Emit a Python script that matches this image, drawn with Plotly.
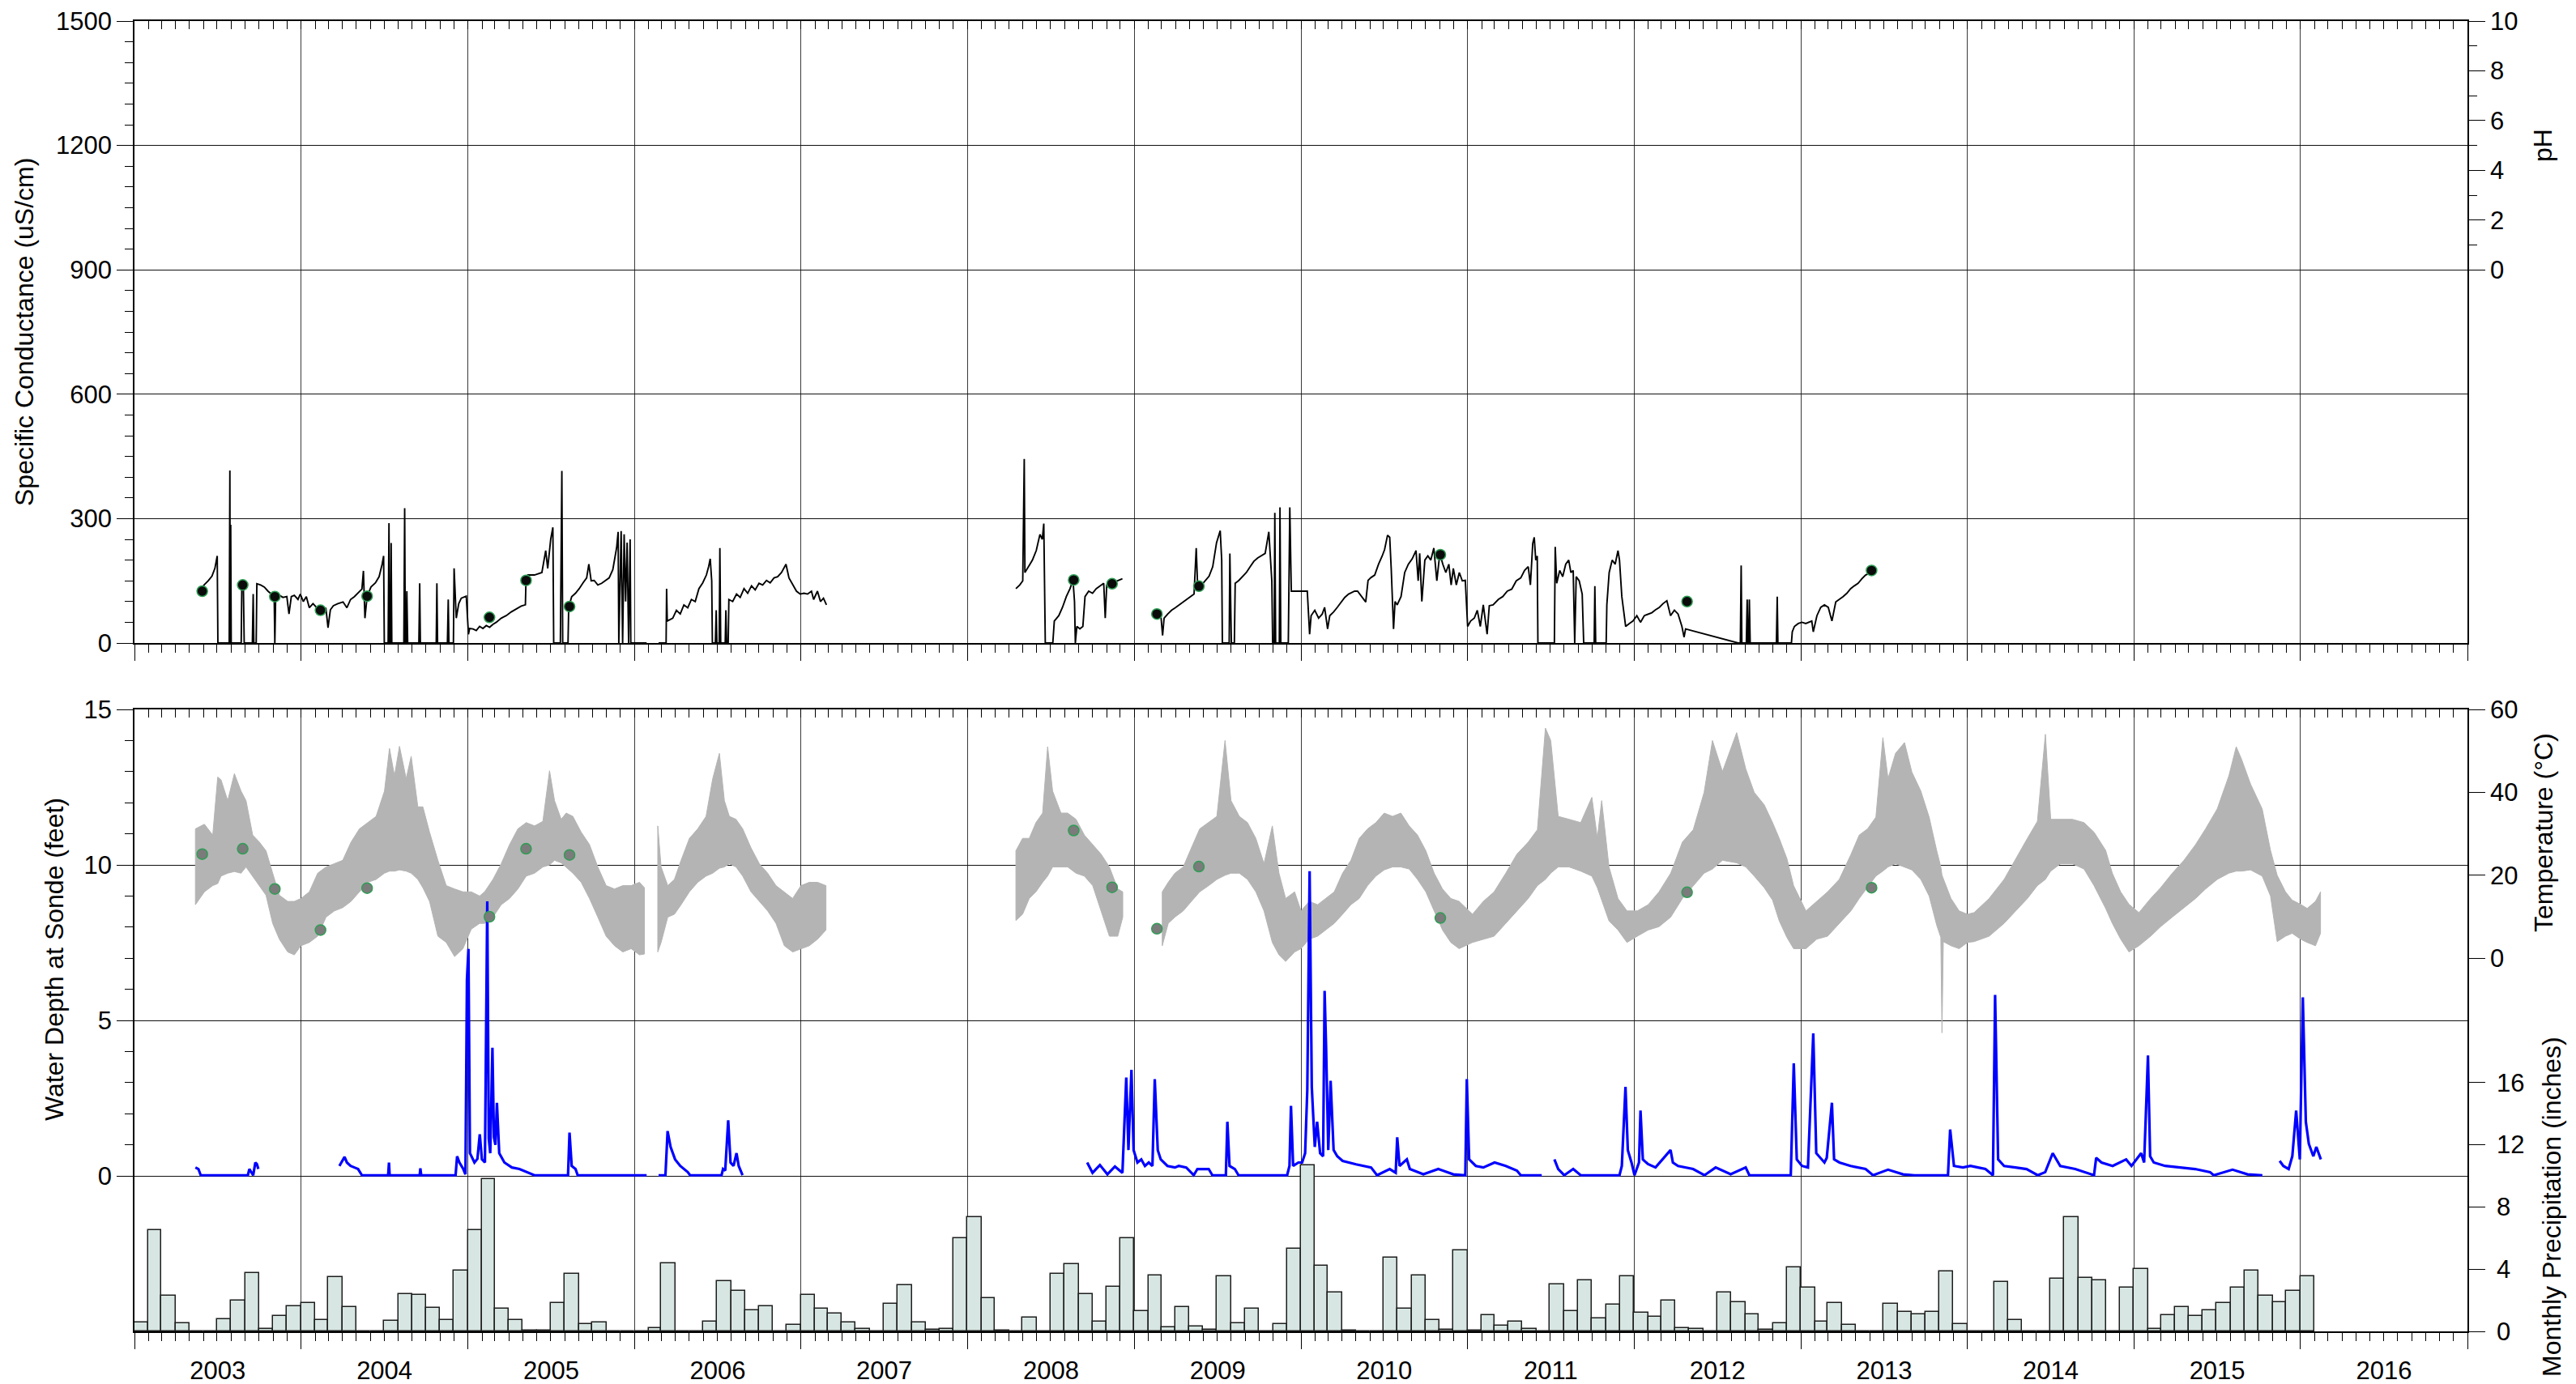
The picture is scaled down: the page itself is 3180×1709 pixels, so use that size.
import datetime as dt
import plotly.graph_objects as go

FONT = "Liberation Sans, Arial, Helvetica, sans-serif"
X_START, X_END = "2003-01-01", "2017-01-01"

# ---------------------------------------------------------------------------
# Field sampling events (decimal year) with measured conductance / temperature
# ---------------------------------------------------------------------------
sample_year = [2003.407, 2003.650, 2003.843, 2004.117, 2004.396, 2005.129, 2005.349, 2005.610,
               2008.636, 2008.866, 2009.135, 2009.387, 2010.837, 2012.318, 2013.424]
sample_sc = [125, 140, 112, 79, 113, 62, 151, 88, 152, 143, 70, 137, 213, 100, 175]
sample_temp = [25.1, 26.4, 16.7, 6.8, 16.9, 10.0, 26.4, 24.9, 30.8, 17.1, 7.1, 22.1, 9.7, 15.9, 17.0]
# no pH readings were logged over this record
ph_year = []
ph_value = []

# ---------------------------------------------------------------------------
# Sonde specific conductance (decimal year, uS/cm), one list per deployment
# ---------------------------------------------------------------------------
sc_2003_2006 = [
    (2003.375, 125), (2003.398, 130), (2003.420, 141), (2003.443, 150), (2003.465, 161), (2003.483, 180),
    (2003.497, 210), (2003.501, 0), (2003.569, 0), (2003.573, 416), (2003.575, 0), (2003.578, 285),
    (2003.581, 0), (2003.641, 0), (2003.645, 146), (2003.654, 140), (2003.659, 0), (2003.708, 0),
    (2003.713, 118), (2003.717, 0), (2003.731, 0), (2003.735, 143), (2003.758, 140), (2003.780, 135),
    (2003.802, 125), (2003.825, 118), (2003.839, 112), (2003.843, 0), (2003.848, 112), (2003.870, 115),
    (2003.892, 110), (2003.915, 112), (2003.928, 70), (2003.942, 112), (2003.960, 115), (2003.982, 105),
    (2003.996, 118), (2004.014, 100), (2004.032, 112), (2004.050, 85), (2004.072, 95), (2004.095, 85),
    (2004.117, 79), (2004.131, 75), (2004.149, 85), (2004.162, 37), (2004.176, 80), (2004.194, 90),
    (2004.221, 95), (2004.252, 99), (2004.275, 85), (2004.297, 105), (2004.320, 112), (2004.342, 120),
    (2004.365, 130), (2004.374, 174), (2004.383, 60), (2004.396, 112), (2004.419, 135), (2004.446, 145),
    (2004.468, 160), (2004.486, 190), (2004.495, 210), (2004.499, 0), (2004.522, 0), (2004.527, 289),
    (2004.531, 0), (2004.536, 0), (2004.540, 241), (2004.544, 0), (2004.616, 0), (2004.621, 325),
    (2004.625, 0), (2004.630, 0), (2004.634, 125), (2004.639, 0), (2004.706, 0), (2004.711, 144),
    (2004.715, 0), (2004.810, 0), (2004.814, 144), (2004.818, 0), (2004.877, 0), (2004.882, 105),
    (2004.886, 0), (2004.913, 0), (2004.917, 180), (2004.930, 60), (2004.945, 95), (2004.960, 108),
    (2004.990, 113), (2005.003, 21), (2005.010, 35), (2005.030, 34), (2005.050, 30), (2005.070, 40),
    (2005.090, 35), (2005.110, 42), (2005.130, 38), (2005.150, 45), (2005.170, 50), (2005.200, 60),
    (2005.230, 66), (2005.260, 75), (2005.290, 82), (2005.320, 89), (2005.345, 92), (2005.349, 160),
    (2005.360, 164), (2005.399, 164), (2005.444, 170), (2005.467, 223), (2005.479, 180), (2005.497, 250),
    (2005.510, 279), (2005.515, 0), (2005.555, 0), (2005.564, 415), (2005.569, 0), (2005.601, 0),
    (2005.605, 86), (2005.623, 112), (2005.646, 120), (2005.668, 131), (2005.691, 145), (2005.713, 157),
    (2005.726, 190), (2005.740, 150), (2005.758, 151), (2005.780, 140), (2005.803, 144), (2005.825, 150),
    (2005.848, 157), (2005.870, 177), (2005.893, 230), (2005.902, 268), (2005.906, 0), (2005.920, 270),
    (2005.929, 0), (2005.938, 262), (2005.947, 100), (2005.956, 242), (2005.965, 0), (2005.974, 250),
    (2005.978, 0), (2006.073, 0),
]
sc_2006_2007 = [
    (2006.145, 0), (2006.190, 0), (2006.193, 131), (2006.197, 53), (2006.230, 60), (2006.252, 79),
    (2006.275, 70), (2006.297, 92), (2006.320, 85), (2006.342, 105), (2006.365, 100), (2006.387, 131),
    (2006.410, 145), (2006.432, 164), (2006.446, 185), (2006.455, 203), (2006.464, 150), (2006.468, 0),
    (2006.486, 0), (2006.491, 79), (2006.495, 0), (2006.509, 0), (2006.513, 229), (2006.518, 0),
    (2006.545, 0), (2006.549, 79), (2006.554, 0), (2006.563, 0), (2006.567, 105), (2006.590, 100),
    (2006.613, 118), (2006.635, 110), (2006.658, 131), (2006.680, 120), (2006.703, 138), (2006.725, 128),
    (2006.748, 144), (2006.770, 140), (2006.793, 151), (2006.815, 145), (2006.838, 157), (2006.860, 160),
    (2006.883, 170), (2006.901, 185), (2006.910, 190), (2006.928, 157), (2006.950, 140), (2006.973, 125),
    (2006.995, 118), (2007.018, 120), (2007.040, 118), (2007.063, 125), (2007.076, 105), (2007.099, 125),
    (2007.117, 100), (2007.135, 108), (2007.153, 92),
]
sc_2008 = [
    (2008.290, 131), (2008.313, 140), (2008.331, 150), (2008.340, 444), (2008.344, 170), (2008.367, 184),
    (2008.389, 200), (2008.412, 223), (2008.434, 262), (2008.448, 250), (2008.457, 288), (2008.466, 0),
    (2008.511, 0), (2008.520, 53), (2008.547, 66), (2008.569, 86), (2008.592, 112), (2008.614, 131),
    (2008.632, 151), (2008.641, 100), (2008.646, 0), (2008.655, 40), (2008.673, 34), (2008.691, 40),
    (2008.704, 112), (2008.726, 125), (2008.749, 120), (2008.771, 131), (2008.794, 138), (2008.816, 144),
    (2008.825, 60), (2008.834, 140), (2008.861, 144), (2008.883, 148), (2008.906, 151), (2008.928, 155),
]
sc_2009_2013 = [
    (2009.137, 70), (2009.160, 60), (2009.169, 18), (2009.178, 60), (2009.200, 70), (2009.223, 79),
    (2009.245, 85), (2009.268, 92), (2009.290, 98), (2009.313, 105), (2009.335, 112), (2009.358, 118),
    (2009.371, 229), (2009.380, 130), (2009.403, 140), (2009.425, 151), (2009.448, 161), (2009.470, 184),
    (2009.493, 242), (2009.515, 271), (2009.524, 200), (2009.528, 0), (2009.569, 0), (2009.573, 216),
    (2009.582, 0), (2009.600, 0), (2009.605, 144), (2009.627, 151), (2009.650, 160), (2009.672, 170),
    (2009.695, 184), (2009.717, 197), (2009.740, 205), (2009.762, 210), (2009.785, 216), (2009.807, 268),
    (2009.825, 150), (2009.830, 0), (2009.839, 0), (2009.843, 314), (2009.848, 0), (2009.870, 0),
    (2009.874, 327), (2009.879, 0), (2009.924, 0), (2009.933, 327), (2009.942, 125), (2010.038, 125),
    (2010.052, 21), (2010.061, 66), (2010.083, 79), (2010.106, 60), (2010.128, 70), (2010.142, 86),
    (2010.160, 34), (2010.173, 66), (2010.196, 75), (2010.218, 86), (2010.241, 99), (2010.263, 110),
    (2010.286, 118), (2010.322, 125), (2010.340, 125), (2010.367, 110), (2010.389, 99), (2010.403, 151),
    (2010.421, 158), (2010.443, 164), (2010.466, 190), (2010.488, 210), (2010.502, 225), (2010.520, 260),
    (2010.533, 255), (2010.542, 180), (2010.556, 34), (2010.565, 100), (2010.578, 92), (2010.601, 112),
    (2010.623, 170), (2010.645, 190), (2010.668, 203), (2010.691, 223), (2010.704, 150), (2010.713, 216),
    (2010.726, 100), (2010.744, 200), (2010.762, 210), (2010.780, 200), (2010.798, 229), (2010.816, 150),
    (2010.834, 216), (2010.852, 190), (2010.870, 170), (2010.888, 190), (2010.902, 140), (2010.915, 180),
    (2010.933, 140), (2010.951, 170), (2010.969, 150), (2010.987, 151), (2011.001, 40), (2011.019, 53),
    (2011.041, 60), (2011.059, 79), (2011.077, 40), (2011.095, 92), (2011.118, 21), (2011.131, 90),
    (2011.154, 92), (2011.185, 105), (2011.212, 112), (2011.239, 125), (2011.266, 130), (2011.293, 150),
    (2011.320, 157), (2011.343, 175), (2011.365, 184), (2011.378, 140), (2011.392, 240), (2011.401, 255),
    (2011.410, 200), (2011.419, 210), (2011.423, 0), (2011.522, 0), (2011.527, 232), (2011.536, 144),
    (2011.554, 175), (2011.572, 160), (2011.590, 190), (2011.608, 200), (2011.621, 170), (2011.635, 175),
    (2011.644, 0), (2011.653, 160), (2011.671, 150), (2011.689, 118), (2011.698, 0), (2011.761, 0),
    (2011.765, 137), (2011.770, 0), (2011.833, 0), (2011.837, 92), (2011.851, 170), (2011.869, 200),
    (2011.887, 190), (2011.904, 223), (2011.913, 200), (2011.927, 112), (2011.941, 60), (2011.950, 40),
    (2011.972, 47), (2011.994, 53), (2012.017, 66), (2012.039, 50), (2012.062, 66), (2012.084, 70),
    (2012.107, 73), (2012.129, 80), (2012.152, 86), (2012.174, 95), (2012.197, 102), (2012.219, 66),
    (2012.242, 79), (2012.264, 70), (2012.287, 40), (2012.300, 14), (2012.309, 34), (2012.624, 0),
    (2012.637, 0), (2012.642, 187), (2012.646, 0), (2012.673, 0), (2012.678, 105), (2012.682, 0),
    (2012.687, 0), (2012.691, 105), (2012.696, 0), (2012.853, 0), (2012.858, 112), (2012.862, 0),
    (2012.943, 0), (2012.948, 27), (2012.961, 40), (2012.984, 47), (2013.006, 50), (2013.029, 47),
    (2013.065, 53), (2013.074, 27), (2013.096, 66), (2013.119, 86), (2013.141, 92), (2013.164, 86),
    (2013.186, 53), (2013.209, 99), (2013.231, 105), (2013.253, 112), (2013.276, 120), (2013.298, 131),
    (2013.321, 138), (2013.343, 144), (2013.366, 155), (2013.388, 164), (2013.406, 167), (2013.424, 175),
]

# ---------------------------------------------------------------------------
# Water depth at sonde (decimal year, feet), one list per deployment
# ---------------------------------------------------------------------------
depth_2003 = [
    (2003.366, 0.27), (2003.384, 0.22), (2003.398, 0.02), (2003.681, 0.02), (2003.690, 0.22),
    (2003.713, 0.02), (2003.726, 0.43), (2003.735, 0.38), (2003.744, 0.22),
]
depth_2004_2006 = [
    (2004.230, 0.32), (2004.243, 0.43), (2004.261, 0.61), (2004.275, 0.43), (2004.297, 0.32),
    (2004.320, 0.27), (2004.342, 0.22), (2004.365, 0.02), (2004.522, 0.02), (2004.527, 0.43),
    (2004.531, 0.02), (2004.711, 0.02), (2004.715, 0.24), (2004.720, 0.02), (2004.926, 0.02),
    (2004.935, 0.63), (2004.949, 0.43), (2004.972, 0.22), (2004.985, 0.05), (2004.994, 6.3),
    (2005.003, 7.3), (2005.012, 0.73), (2005.039, 0.43), (2005.057, 0.55), (2005.071, 1.34),
    (2005.084, 0.53), (2005.102, 0.43), (2005.116, 8.83), (2005.125, 1.2), (2005.134, 0.73),
    (2005.147, 4.12), (2005.156, 1.24), (2005.165, 1.0), (2005.174, 2.35), (2005.188, 0.73),
    (2005.219, 0.43), (2005.264, 0.27), (2005.309, 0.22), (2005.354, 0.12), (2005.399, 0.02),
    (2005.601, 0.02), (2005.610, 1.39), (2005.623, 0.32), (2005.646, 0.22), (2005.659, 0.02),
    (2006.073, 0.02),
]
depth_2006 = [
    (2006.145, 0.02), (2006.186, 0.02), (2006.199, 1.44), (2006.217, 0.93), (2006.244, 0.53),
    (2006.275, 0.32), (2006.320, 0.12), (2006.334, 0.02), (2006.523, 0.02), (2006.532, 0.22),
    (2006.545, 0.17), (2006.563, 1.79), (2006.577, 0.43), (2006.595, 0.32), (2006.613, 0.73),
    (2006.626, 0.32), (2006.649, 0.02),
]
depth_2008_2011 = [
    (2008.717, 0.43), (2008.749, 0.10), (2008.793, 0.35), (2008.838, 0.05), (2008.883, 0.30),
    (2008.928, 0.10), (2008.951, 3.16), (2008.964, 0.83), (2008.982, 3.41), (2008.995, 0.83),
    (2009.018, 0.43), (2009.041, 0.53), (2009.063, 0.32), (2009.086, 0.43), (2009.108, 0.32),
    (2009.122, 3.11), (2009.140, 0.83), (2009.158, 0.53), (2009.198, 0.32), (2009.243, 0.27),
    (2009.266, 0.32), (2009.311, 0.27), (2009.356, 0.02), (2009.378, 0.22), (2009.446, 0.22),
    (2009.468, 0.02), (2009.549, 0.02), (2009.558, 1.74), (2009.571, 0.32), (2009.603, 0.22),
    (2009.625, 0.02), (2009.917, 0.02), (2009.931, 0.32), (2009.940, 2.25), (2009.953, 0.32),
    (2009.985, 0.43), (2010.007, 0.43), (2010.025, 0.73), (2010.038, 2.76), (2010.052, 9.8),
    (2010.065, 2.86), (2010.083, 0.93), (2010.097, 1.74), (2010.115, 0.73), (2010.133, 0.63),
    (2010.142, 5.95), (2010.151, 4.12), (2010.164, 0.83), (2010.178, 3.06), (2010.196, 0.83),
    (2010.218, 0.63), (2010.250, 0.48), (2010.331, 0.37), (2010.421, 0.27), (2010.457, 0.02),
    (2010.533, 0.22), (2010.569, 0.10), (2010.578, 1.24), (2010.592, 0.32), (2010.636, 0.53),
    (2010.654, 0.22), (2010.735, 0.05), (2010.825, 0.22), (2010.915, 0.05), (2010.987, 0.02),
    (2010.996, 3.11), (2011.010, 0.53), (2011.050, 0.32), (2011.095, 0.27), (2011.163, 0.43),
    (2011.230, 0.32), (2011.297, 0.17), (2011.320, 0.02), (2011.446, 0.02),
]
depth_2011_2015 = [
    (2011.522, 0.53), (2011.545, 0.22), (2011.581, 0.02), (2011.635, 0.22), (2011.680, 0.02),
    (2011.913, 0.02), (2011.927, 0.32), (2011.949, 2.86), (2011.963, 0.83), (2011.985, 0.43),
    (2012.003, 0.02), (2012.030, 0.43), (2012.039, 2.10), (2012.053, 0.53), (2012.084, 0.38),
    (2012.129, 0.27), (2012.219, 0.83), (2012.233, 0.43), (2012.264, 0.32), (2012.354, 0.22),
    (2012.422, 0.02), (2012.489, 0.27), (2012.579, 0.05), (2012.669, 0.27), (2012.691, 0.02),
    (2012.939, 0.02), (2012.957, 3.62), (2012.975, 0.53), (2013.006, 0.32), (2013.042, 0.27),
    (2013.074, 4.58), (2013.092, 0.73), (2013.141, 0.43), (2013.155, 0.58), (2013.186, 2.35),
    (2013.199, 0.53), (2013.231, 0.43), (2013.298, 0.32), (2013.388, 0.22), (2013.433, 0.02),
    (2013.523, 0.20), (2013.613, 0.05), (2013.681, 0.02), (2013.883, 0.02), (2013.896, 1.49),
    (2013.919, 0.32), (2013.973, 0.27), (2014.018, 0.32), (2014.063, 0.27), (2014.108, 0.22),
    (2014.153, 0.02), (2014.166, 5.82), (2014.184, 0.53), (2014.220, 0.32), (2014.288, 0.27),
    (2014.355, 0.22), (2014.422, 0.02), (2014.467, 0.12), (2014.512, 0.73), (2014.535, 0.53),
    (2014.557, 0.32), (2014.647, 0.22), (2014.760, 0.02), (2014.773, 0.58), (2014.805, 0.43),
    (2014.872, 0.32), (2014.953, 0.53), (2014.985, 0.32), (2015.043, 0.73), (2015.061, 0.43),
    (2015.084, 3.87), (2015.097, 0.63), (2015.119, 0.43), (2015.187, 0.32), (2015.277, 0.27),
    (2015.367, 0.22), (2015.457, 0.12), (2015.479, 0.02), (2015.592, 0.20), (2015.682, 0.05),
    (2015.771, 0.02),
]
depth_2016 = [
    (2015.875, 0.48), (2015.897, 0.32), (2015.929, 0.22), (2015.951, 0.63), (2015.974, 2.10),
    (2015.996, 0.53), (2016.014, 5.74), (2016.032, 1.74), (2016.050, 1.03), (2016.077, 0.63),
    (2016.095, 0.93), (2016.122, 0.53),
]

# ---------------------------------------------------------------------------
# Water temperature daily range (decimal year, daily low degC, daily high degC)
# ---------------------------------------------------------------------------
temp_2003_2006 = [
    (2003.366, 12.9, 31.2), (2003.42, 16.0, 32.3), (2003.47, 17.5, 29.7), (2003.50, 18.0, 43.7),
    (2003.52, 19.8, 43.0), (2003.56, 20.5, 38.0), (2003.60, 20.9, 44.5), (2003.64, 20.5, 40.3),
    (2003.67, 22.0, 38.0), (2003.71, 19.8, 29.7), (2003.75, 17.5, 28.0), (2003.79, 15.2, 25.9),
    (2003.83, 8.4, 20.5), (2003.87, 4.6, 15.2), (2003.92, 1.5, 13.7), (2003.96, 0.8, 13.7),
    (2004.00, 3.0, 14.4), (2004.05, 3.8, 16.0), (2004.10, 5.3, 20.5), (2004.15, 9.9, 22.0),
    (2004.20, 11.4, 22.8), (2004.25, 12.2, 23.6), (2004.30, 13.7, 28.0), (2004.35, 16.0, 31.2),
    (2004.40, 18.3, 32.7), (2004.45, 19.0, 34.2), (2004.50, 20.5, 40.3), (2004.53, 21.0, 50.6),
    (2004.56, 21.0, 44.0), (2004.59, 21.3, 51.1), (2004.63, 21.0, 43.3), (2004.66, 20.5, 48.7),
    (2004.70, 19.0, 36.5), (2004.73, 17.0, 36.5), (2004.77, 13.7, 30.4), (2004.82, 5.3, 23.6),
    (2004.87, 3.8, 17.5), (2004.92, 0.4, 16.7), (2004.97, 2.3, 16.0), (2005.02, 7.0, 16.0),
    (2005.07, 8.4, 15.0), (2005.10, 8.4, 16.0), (2005.15, 9.9, 19.0), (2005.20, 12.9, 22.8),
    (2005.25, 14.4, 27.4), (2005.30, 16.7, 31.2), (2005.35, 19.8, 32.7), (2005.40, 20.5, 31.9),
    (2005.45, 22.0, 33.0), (2005.49, 22.5, 45.2), (2005.52, 23.6, 38.0), (2005.56, 23.0, 33.5),
    (2005.59, 22.0, 35.0), (2005.63, 20.5, 34.2), (2005.68, 18.3, 30.4), (2005.73, 14.4, 27.4),
    (2005.78, 9.9, 22.0), (2005.83, 5.3, 17.5), (2005.88, 3.0, 16.7), (2005.93, 1.5, 17.5),
    (2005.98, 2.3, 17.5), (2006.03, 0.8, 18.3), (2006.06, 1.0, 17.0),
]
temp_2006_2007 = [
    (2006.14, 1.5, 31.9), (2006.16, 3.8, 22.0), (2006.20, 9.9, 17.5), (2006.24, 10.6, 19.0),
    (2006.28, 12.9, 23.6), (2006.33, 16.0, 28.9), (2006.38, 18.3, 31.2), (2006.43, 19.8, 34.2),
    (2006.47, 20.5, 43.3), (2006.51, 21.7, 49.4), (2006.54, 22.0, 38.0), (2006.57, 22.8, 34.2),
    (2006.61, 22.0, 33.5), (2006.65, 19.8, 31.2), (2006.70, 16.0, 26.6), (2006.75, 13.7, 22.8),
    (2006.80, 11.4, 20.5), (2006.85, 8.4, 17.5), (2006.90, 3.0, 16.0), (2006.95, 1.5, 14.4),
    (2007.00, 2.3, 17.5), (2007.05, 3.0, 18.3), (2007.10, 4.6, 18.3), (2007.15, 6.8, 17.5),
]
temp_2008 = [
    (2008.29, 9.1, 25.9), (2008.33, 10.6, 28.9), (2008.37, 14.4, 28.9), (2008.41, 16.0, 32.7),
    (2008.45, 18.3, 35.0), (2008.48, 19.8, 51.0), (2008.51, 22.0, 40.3), (2008.56, 22.0, 35.0),
    (2008.60, 22.0, 35.0), (2008.65, 20.5, 33.5), (2008.70, 19.8, 29.7), (2008.75, 17.5, 27.4),
    (2008.80, 11.4, 25.1), (2008.85, 5.3, 22.0), (2008.90, 5.3, 16.7), (2008.93, 9.9, 16.0),
]
temp_2009_2016 = [
    (2009.167, 3.0, 16.0), (2009.203, 8.4, 18.3), (2009.243, 9.9, 20.5), (2009.293, 11.4, 22.0),
    (2009.342, 13.7, 26.6), (2009.392, 16.0, 31.2), (2009.446, 17.5, 32.7), (2009.495, 19.0, 34.2),
    (2009.544, 20.0, 52.5), (2009.580, 20.5, 38.0), (2009.630, 20.5, 34.2), (2009.679, 19.0, 32.7),
    (2009.729, 16.0, 28.9), (2009.778, 11.4, 22.8), (2009.828, 3.8, 31.9), (2009.868, 0.8, 20.5),
    (2009.908, -0.8, 14.4), (2009.962, 1.5, 16.0),
    (2010.00, 2.3, 11.4), (2010.05, 4.6, 13.7), (2010.10, 5.3, 12.9), (2010.15, 6.8, 14.4),
    (2010.20, 8.4, 16.0), (2010.25, 10.6, 20.5), (2010.30, 12.9, 23.6), (2010.35, 14.4, 28.9),
    (2010.40, 17.5, 31.2), (2010.45, 19.8, 32.7), (2010.50, 21.3, 35.0), (2010.55, 22.0, 34.2),
    (2010.60, 22.0, 35.0), (2010.65, 21.5, 31.9), (2010.70, 19.0, 29.7), (2010.75, 16.0, 25.9),
    (2010.80, 11.4, 20.5), (2010.85, 6.8, 16.7), (2010.90, 3.8, 14.4), (2010.95, 2.3, 13.7),
    (2011.03, 3.8, 10.6), (2011.095, 4.6, 13.7), (2011.16, 5.3, 16.0), (2011.23, 8.4, 20.5),
    (2011.297, 11.4, 25.1), (2011.365, 14.4, 28.0), (2011.42, 17.5, 31.0), (2011.468, 19.0, 55.5),
    (2011.50, 20.5, 52.5), (2011.545, 22.0, 34.2), (2011.61, 22.0, 33.5), (2011.68, 21.0, 32.7),
    (2011.747, 19.8, 38.8), (2011.78, 17.0, 29.0), (2011.806, 14.0, 38.0), (2011.85, 9.0, 22.0),
    (2011.904, 6.8, 14.4), (2011.958, 3.8, 11.4),
    (2012.02, 5.3, 11.4), (2012.085, 6.8, 12.9), (2012.15, 7.6, 16.0), (2012.22, 9.9, 20.5),
    (2012.29, 14.4, 28.0), (2012.355, 17.5, 31.0), (2012.42, 20.5, 40.0), (2012.47, 21.5, 52.5),
    (2012.53, 23.6, 45.0), (2012.615, 23.0, 54.4), (2012.67, 22.0, 45.6), (2012.72, 19.8, 40.0),
    (2012.78, 17.0, 37.0), (2012.83, 14.0, 32.7), (2012.87, 9.0, 28.9), (2012.916, 5.0, 24.0),
    (2012.956, 2.3, 17.5),
    (2013.03, 2.3, 11.4), (2013.095, 4.6, 13.7), (2013.16, 5.3, 16.0), (2013.23, 8.4, 19.0),
    (2013.30, 11.4, 25.0), (2013.35, 14.4, 29.7), (2013.40, 17.0, 31.2), (2013.45, 19.8, 34.0),
    (2013.492, 21.0, 53.2), (2013.523, 22.0, 43.3), (2013.568, 22.8, 49.4), (2013.622, 22.0, 52.0),
    (2013.666, 21.3, 44.9), (2013.72, 19.0, 40.3), (2013.77, 15.0, 34.0), (2013.815, 8.0, 26.0),
    (2013.84, 5.0, 22.0), (2013.847, -18.0, 20.0), (2013.855, 4.0, 19.0), (2013.901, 3.0, 14.4),
    (2013.95, 2.3, 11.4),
    (2014.00, 3.8, 10.6), (2014.04, 4.0, 11.0), (2014.13, 5.3, 14.4), (2014.22, 8.4, 19.0),
    (2014.29, 11.4, 24.0), (2014.36, 14.4, 28.9), (2014.42, 17.5, 33.0), (2014.468, 19.0, 54.0),
    (2014.50, 21.0, 33.5), (2014.56, 22.8, 33.5), (2014.63, 22.8, 33.5), (2014.70, 21.5, 32.7),
    (2014.76, 17.5, 30.4), (2014.83, 12.0, 26.0), (2014.87, 8.4, 20.5), (2014.92, 4.6, 16.0),
    (2014.97, 1.5, 13.0),
    (2015.03, 3.0, 11.0), (2015.10, 5.3, 14.4), (2015.16, 7.6, 17.0), (2015.23, 9.9, 20.5),
    (2015.30, 12.2, 23.6), (2015.37, 14.4, 27.4), (2015.43, 16.7, 31.2), (2015.50, 19.0, 36.0),
    (2015.57, 20.5, 44.0), (2015.614, 21.0, 51.0), (2015.646, 21.0, 48.0), (2015.70, 21.3, 42.0),
    (2015.77, 19.8, 36.0), (2015.82, 15.0, 26.0), (2015.86, 4.0, 20.0), (2015.91, 5.3, 16.0),
    (2015.95, 6.0, 14.0),
    (2016.00, 4.6, 13.0), (2016.04, 3.8, 12.0), (2016.09, 3.0, 13.7), (2016.12, 6.0, 16.0),
]

# ---------------------------------------------------------------------------
# Monthly precipitation totals (inches), January..December
# ---------------------------------------------------------------------------
precip_2003 = [0.59, 6.53, 2.30, 0.54, 0, 0, 0.80, 1.99, 3.77, 0.14, 0.99, 1.63]
precip_2004 = [1.84, 0.74, 3.50, 1.58, 0, 0, 0.69, 2.41, 2.32, 1.51, 0.74, 3.91]
precip_2005 = [6.53, 9.80, 1.44, 0.71, 0.03, 0.03, 1.84, 3.72, 0.45, 0.55, 0, 0]
precip_2006 = [0, 0.19, 4.36, 0, 0, 0.61, 3.22, 2.61, 1.37, 1.64, 0, 0.40]
precip_2007 = [2.35, 1.44, 1.13, 0.59, 0.14, 0, 1.77, 2.98, 0.59, 0.12, 0.17, 6.01]
precip_2008 = [7.36, 2.11, 0.07, 0, 0.90, 0, 3.69, 4.31, 2.41, 0.64, 2.89, 6.01]
precip_2009 = [1.28, 3.60, 0.24, 1.58, 0.29, 0.09, 3.55, 0.50, 1.44, 0, 0.45, 5.33]
precip_2010 = [10.70, 4.24, 2.51, 0.03, 0, 0, 4.74, 1.47, 3.57, 0.71, 0.12, 5.19]
precip_2011 = [0.07, 1.04, 0.35, 0.64, 0.14, 0, 3.00, 1.32, 3.27, 0.85, 1.70, 3.53]
precip_2012 = [1.18, 0.95, 1.97, 0.19, 0.14, 0, 2.48, 1.85, 1.11, 0.09, 0.52, 4.09]
precip_2013 = [2.81, 0.61, 1.82, 0.40, 0, 0, 1.78, 1.23, 1.09, 1.26, 3.88, 0.45]
precip_2014 = [0, 0, 3.20, 0.71, 0, 0, 3.38, 7.34, 3.45, 3.27, 0, 2.82]
precip_2015 = [4.02, 0.14, 1.02, 1.56, 1.00, 1.35, 1.84, 2.81, 3.93, 2.29, 1.89, 2.61]
precip_2016 = [3.52]
precip_years = [2003, 2004, 2005, 2006, 2007, 2008, 2009, 2010, 2011, 2012, 2013, 2014, 2015, 2016]
precip_monthly = [precip_2003, precip_2004, precip_2005, precip_2006, precip_2007, precip_2008,
                  precip_2009, precip_2010, precip_2011, precip_2012, precip_2013, precip_2014,
                  precip_2015, precip_2016]

# Axis tick values
sc_ticks = [0, 300, 600, 900, 1200, 1500]
ph_ticks = [0, 2, 4, 6, 8, 10]
ph_minor = [1, 3, 5, 7, 9]
depth_ticks = [0, 5, 10, 15]
depth_minor = [1, 2, 3, 4, 6, 7, 8, 9, 11, 12, 13, 14]
temp_ticks = [0, 20, 40, 60]
precip_ticks = [0, 4, 8, 12, 16]


def to_date(year_frac):
    """Decimal year -> datetime."""
    y = int(year_frac)
    start = dt.datetime(y, 1, 1)
    end = dt.datetime(y + 1, 1, 1)
    return start + (end - start) * (year_frac - y)


def join_segments(segments):
    """Concatenate (t, v) deployments into one line, breaking at the gaps."""
    xs, ys = [], []
    for k, seg in enumerate(segments):
        if k:
            xs.append(None)
            ys.append(None)
        for t, v in seg:
            xs.append(to_date(t))
            ys.append(v)
    return xs, ys


def band_outline(segments):
    """Closed low/high envelope for each deployment."""
    xs, ys = [], []
    for k, seg in enumerate(segments):
        if k:
            xs.append(None)
            ys.append(None)
        dates = [to_date(t) for t, _, _ in seg]
        lows = [lo for _, lo, _ in seg]
        highs = [hi for _, _, hi in seg]
        xs += dates + dates[::-1] + [dates[0]]
        ys += lows + highs[::-1] + [lows[0]]
    return xs, ys


# Monthly bars: centred on each month, full month wide
bar_x, bar_w, bar_y = [], [], []
for yr, vals in zip(precip_years, precip_monthly):
    for m, v in enumerate(vals):
        start = dt.datetime(yr, m + 1, 1)
        end = dt.datetime(yr + (m == 11), (m + 1) % 12 + 1, 1)
        bar_x.append(start + (end - start) / 2)
        bar_w.append((end - start).total_seconds() * 1000.0)
        bar_y.append(v)

sc_x, sc_y = join_segments([sc_2003_2006, sc_2006_2007, sc_2008, sc_2009_2013])
depth_x, depth_y = join_segments([depth_2003, depth_2004_2006, depth_2006, depth_2008_2011,
                                  depth_2011_2015, depth_2016])
band_x, band_y = band_outline([temp_2003_2006, temp_2006_2007, temp_2008, temp_2009_2016])
sample_dates = [to_date(t) for t in sample_year]
ph_dates = [to_date(t) for t in ph_year]

GREEN = "#2f9e55"
fig = go.Figure()

# ---- upper panel: specific conductance and pH ----
fig.add_trace(go.Scatter(x=sc_x, y=sc_y, mode="lines", xaxis="x2", yaxis="y",
                         line=dict(color="#000000", width=1.9), connectgaps=False,
                         hoverinfo="skip"))
fig.add_trace(go.Scatter(x=sample_dates, y=sample_sc, mode="markers", xaxis="x2", yaxis="y",
                         marker=dict(size=13, color="#0b0b0b", line=dict(color=GREEN, width=1.5))))
fig.add_trace(go.Scatter(x=ph_dates, y=ph_value, mode="markers", xaxis="x2", yaxis="y2",
                         marker=dict(size=13, color="#ffffff", line=dict(color=GREEN, width=1.5))))
# frame along the top of the upper panel (inward month ticks)
fig.add_trace(go.Scatter(x=ph_dates, y=ph_value, mode="markers", xaxis="x3", yaxis="y"))

# ---- lower panel ----
# water-depth frame along the top of the lower panel
fig.add_trace(go.Scatter(x=ph_dates, y=ph_value, mode="markers", xaxis="x4", yaxis="y3"))
fig.add_trace(go.Scatter(x=depth_x, y=depth_y, mode="lines", xaxis="x", yaxis="y3",
                         line=dict(color="#0000ff", width=3.2), connectgaps=False, opacity=0))
fig.add_trace(go.Bar(x=bar_x, y=bar_y, width=bar_w, xaxis="x", yaxis="y4",
                     marker=dict(color="#d7e6e2", line=dict(color="#1e1e1e", width=1.5))))
fig.add_trace(go.Scatter(x=band_x, y=band_y, mode="lines", fill="toself", xaxis="x", yaxis="y5",
                         fillcolor="#b4b4b4", line=dict(color="#b4b4b4", width=1),
                         hoverinfo="skip"))
fig.add_trace(go.Scatter(x=depth_x, y=depth_y, mode="lines", xaxis="x", yaxis="y6",
                         line=dict(color="#0000ff", width=3.2), connectgaps=False))
fig.add_trace(go.Scatter(x=sample_dates, y=sample_temp, mode="markers", xaxis="x", yaxis="y7",
                         marker=dict(size=13, color="#7b7b7b", line=dict(color=GREEN, width=1.5))))

tickfont = dict(family=FONT, size=31, color="#000000")
line_style = dict(showline=True, linecolor="#000000", linewidth=1.5, zeroline=False,
                  automargin=False)

TOP = [0.52534, 1.0]
BOTTOM = [0.0, 0.47466]

x_common = dict(type="date", range=[X_START, X_END], tick0=X_START, dtick="M12",
                ticks="outside", ticklen=20, tickwidth=1.3, tickcolor="#000000",
                showgrid=True, gridcolor="#3a3a3a", gridwidth=1.2,
                minor=dict(tick0=X_START, dtick="M1", ticks="outside", ticklen=10,
                           tickwidth=1, tickcolor="#000000", showgrid=False),
                **line_style)
x_top_edge = dict(type="date", range=[X_START, X_END], side="top", tick0=X_START, dtick="M1",
                  ticks="inside", ticklen=10, tickwidth=1, tickcolor="#000000",
                  showticklabels=False, showgrid=False, **line_style)

fig.update_layout(
    template="none",
    width=3180, height=1709,
    margin=dict(l=166, r=134, t=26, b=65, pad=0, autoexpand=False),
    paper_bgcolor="#ffffff", plot_bgcolor="#ffffff",
    showlegend=False, bargap=0,
    font=dict(family=FONT, size=31, color="#000000"),
    xaxis=dict(anchor="y3", domain=[0, 1], tickformat="%Y", ticklabelmode="period",
               tickfont=tickfont, **x_common),
    xaxis2=dict(anchor="y", domain=[0, 1], showticklabels=False, **x_common),
    xaxis3=dict(anchor="y", overlaying="x2", **x_top_edge),
    xaxis4=dict(anchor="y3", overlaying="x", **x_top_edge),
    yaxis=dict(domain=TOP, anchor="x2", range=[0, 1500], tickmode="array", tickvals=sc_ticks,
               ticks="outside", ticklen=20, tickwidth=1.3, tickcolor="#000000", tickfont=tickfont,
               showgrid=True, gridcolor="#111111", gridwidth=1.3,
               minor=dict(tick0=0, dtick=50, ticks="outside", ticklen=10, tickwidth=1,
                          tickcolor="#000000", showgrid=False),
               **line_style),
    yaxis2=dict(anchor="x2", overlaying="y", side="right", range=[-15, 10], tickmode="array",
                tickvals=ph_ticks, ticks="outside", ticklen=20, tickwidth=1.3, tickcolor="#000000",
                tickfont=tickfont, showgrid=False,
                minor=dict(tickmode="array", tickvals=ph_minor, ticks="outside", ticklen=10,
                           tickwidth=1, tickcolor="#000000", showgrid=False),
                **line_style),
    yaxis3=dict(domain=BOTTOM, anchor="x", range=[-5, 15], tickmode="array", tickvals=depth_ticks,
                ticks="outside", ticklen=20, tickwidth=1.3, tickcolor="#000000", tickfont=tickfont,
                showgrid=True, gridcolor="#111111", gridwidth=1.3,
                minor=dict(tickmode="array", tickvals=depth_minor, ticks="outside", ticklen=10,
                           tickwidth=1, tickcolor="#000000", showgrid=False),
                **line_style),
    yaxis4=dict(anchor="x", overlaying="y3", side="right", range=[0, 40], tickmode="array",
                tickvals=precip_ticks, ticks="outside", ticklen=20, tickwidth=1.3,
                tickcolor="#000000", tickfont=tickfont, ticklabelstandoff=8, showgrid=False,
                **line_style),
    yaxis5=dict(anchor="x", overlaying="y3", side="right", range=[-90, 60], tickmode="array",
                tickvals=temp_ticks, ticks="outside", ticklen=20, tickwidth=1.3,
                tickcolor="#000000", tickfont=tickfont, showgrid=False, **line_style),
    yaxis6=dict(anchor="x", overlaying="y3", range=[-5, 15], visible=False),
    yaxis7=dict(anchor="x", overlaying="y3", range=[-90, 60], visible=False),
)


def px_to_paper(px, py):
    return (px - 166) / 2880.0, (1644 - py) / 1618.0


title_font = dict(family=FONT, size=32, color="#000000")
for text, px, py in [
    ("Specific Conductance (uS/cm)", 30, 410),
    ("Water Depth at Sonde (feet)", 67, 1185),
    ("pH", 3139, 180),
    ("Temperature (°C)", 3140, 1028),
    ("Monthly Precipitation (inches)", 3150, 1490),
]:
    ax, ay = px_to_paper(px, py)
    fig.add_annotation(text=text, x=ax, y=ay, xref="paper", yref="paper", showarrow=False,
                       textangle=-90, xanchor="center", yanchor="middle", font=title_font)

fig.write_html("out.html")
